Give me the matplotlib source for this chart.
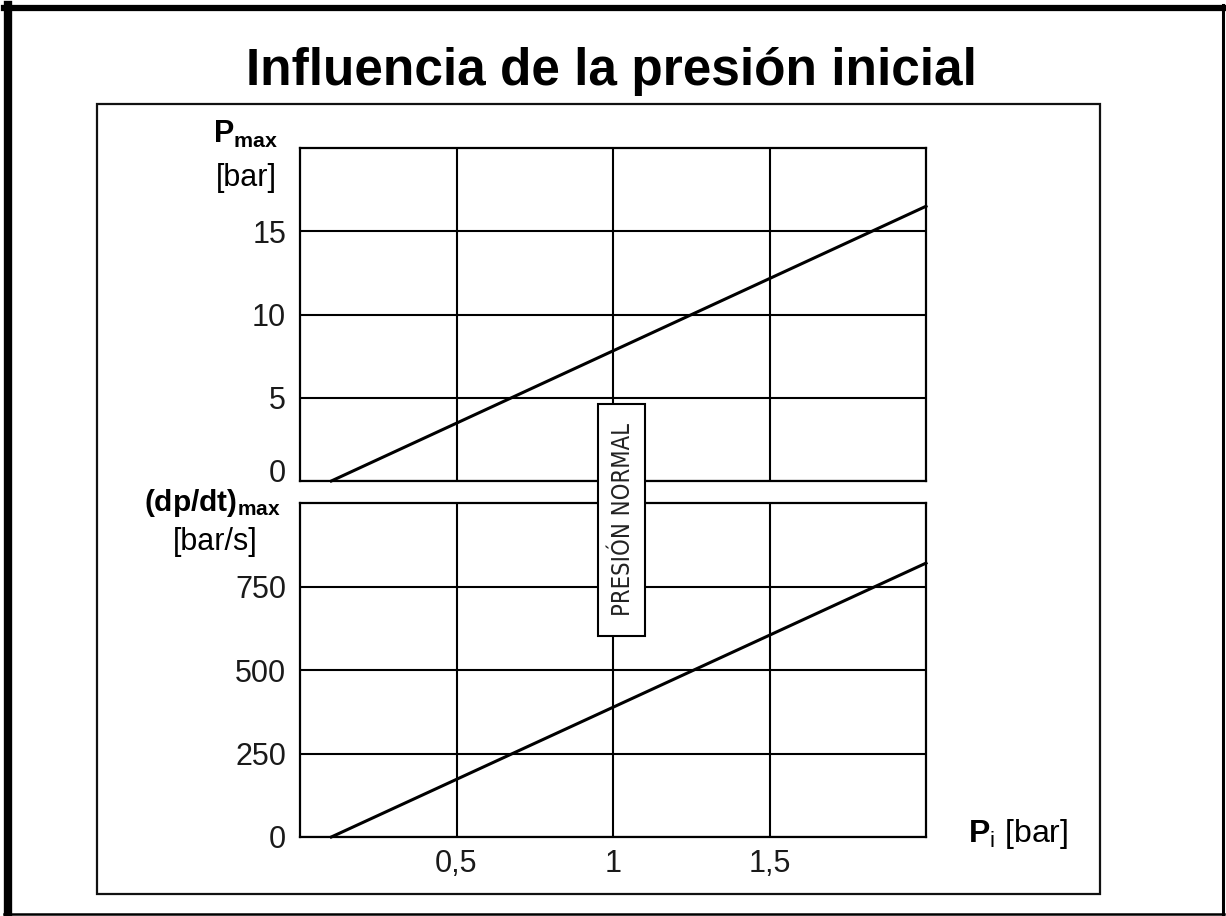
import matplotlib
matplotlib.use('Agg')
import matplotlib.pyplot as plt
import matplotlib.transforms as mtransforms
from matplotlib import font_manager
from matplotlib.lines import Line2D
from matplotlib.patches import Rectangle

# datos
pi_bar = [0.1, 2.0]
p_max = [0.0, 16.5]
dpdt_max = [0.0, 820.0]

x_ticks = [0.5, 1.0, 1.5]
x_labels = ['0,5', '1', '1,5']
p_ticks = [0, 5, 10, 15]
dpdt_ticks = [0, 250, 500, 750]

plt.rcParams['font.family'] = ['Liberation Sans', 'DejaVu Sans']
plt.rcParams['mathtext.fontset'] = 'custom'
plt.rcParams['mathtext.rm'] = 'Liberation Sans'
plt.rcParams['mathtext.bf'] = 'Liberation Sans:bold'
plt.rcParams['mathtext.it'] = 'Liberation Sans:italic'

W, H = 1226, 916


def fx(px):
    return px / W


def fy(py):
    return 1 - py / H


def setup_axes(ax, yticks, ylim, show_x):
    ax.set_xlim(0, 2)
    ax.set_ylim(*ylim)
    ax.set_xticks(x_ticks)
    ax.set_yticks(yticks)
    ax.set_yticklabels([str(t) for t in yticks])
    if show_x:
        ax.set_xticklabels(x_labels)
    else:
        ax.set_xticklabels([])
    ax.tick_params(length=0, labelsize=22, pad=10, colors='#1a1a1a')
    ax.tick_params(axis='x', pad=9)
    ax.grid(True, color='black', linewidth=1.5)
    ax.set_axisbelow(True)
    for s in ax.spines.values():
        s.set_linewidth(1.6)
        s.set_color('black')


fig = plt.figure(figsize=(W / 100, H / 100), dpi=100)

ax1 = fig.add_axes([fx(300), fy(481), fx(926 - 300), (481 - 148) / H])
ax2 = fig.add_axes([fx(300), fy(837), fx(926 - 300), (837 - 503) / H])

ax1.plot(pi_bar, p_max, color='black', linewidth=2.2, clip_on=False)
ax2.plot(pi_bar, dpdt_max, color='black', linewidth=2.2, clip_on=False)
setup_axes(ax1, p_ticks, (0, 20), False)
setup_axes(ax2, dpdt_ticks, (0, 1000), True)

# el "0" de arriba va un poco mas alto, como en el original
lbl0 = ax1.get_yticklabels()[0]
lbl0.set_transform(lbl0.get_transform() +
                   mtransforms.ScaledTranslation(0, 10 / 100, fig.dpi_scale_trans))

# titulo
fig.text(fx(611), fy(85), 'Influencia de la presión inicial', ha='center',
         va='baseline', fontsize=37, fontweight='bold')

# etiquetas de los ejes
fig.text(fx(246), fy(143), r'$\mathbf{P_{max}}$', ha='center', va='baseline', fontsize=22)
fig.text(fx(246), fy(186), '[bar]', ha='center', va='baseline', fontsize=22)
fig.text(fx(212), fy(511), r'$\mathbf{(dp/dt)_{max}}$', ha='center', va='baseline', fontsize=21.5)
fig.text(fx(215), fy(550), '[bar/s]', ha='center', va='baseline', fontsize=22)
fig.text(fx(968), fy(842), r'$\mathbf{P}_{\mathrm{i}}$ [bar]', ha='left', va='baseline', fontsize=23)

# recuadro "PRESION NORMAL"
names = {f.name for f in font_manager.fontManager.ttflist}
cond = [f for f in font_manager.fontManager.ttflist if 'Condensed' in f.fname and f.weight in (400, 'normal')]
if 'Liberation Sans Narrow' in names:
    box_kw = dict(family='Liberation Sans Narrow', fontsize=19)
elif cond:
    box_kw = dict(family=cond[0].name, stretch='condensed', fontsize=17)
else:
    box_kw = dict(family='Liberation Sans', fontsize=15.5)
fig.patches.append(Rectangle((fx(598), fy(636)), fx(645 - 598), (636 - 404) / H,
                             transform=fig.transFigure, facecolor='white',
                             edgecolor='black', linewidth=1.5, zorder=5))
fig.text(fx(623), fy(520), 'PRESIÓN NORMAL', rotation=90, ha='center', va='center',
         color='#222222', zorder=6, **box_kw)

# marco interior
fig.patches.append(Rectangle((fx(97), fy(894)), fx(1100 - 97), (894 - 104) / H,
                             transform=fig.transFigure, fill=False,
                             edgecolor='#111111', linewidth=1.6, zorder=1))

# borde exterior negro
fig.lines.append(Line2D([fx(8), fx(8)], [fy(5), fy(915)], transform=fig.transFigure,
                        color='black', linewidth=6))
fig.lines.append(Line2D([fx(4), fx(1224)], [fy(8), fy(8)], transform=fig.transFigure,
                        color='black', linewidth=4.5))
fig.lines.append(Line2D([fx(1222.5), fx(1222.5)], [fy(5), fy(915)], transform=fig.transFigure,
                        color='black', linewidth=2.2))
fig.lines.append(Line2D([fx(4), fx(1224)], [fy(914), fy(914)], transform=fig.transFigure,
                        color='black', linewidth=1.8))

fig.savefig('out.png', dpi=100)
